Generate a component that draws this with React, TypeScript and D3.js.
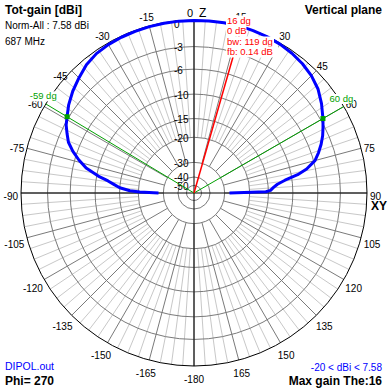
import React from "react";
import * as d3 from "d3";

// elevation cut, normalized gain (dB) vs theta (deg from Z)
const thetaDeg = [
  -90, -89, -88, -86, -84, -82, -80, -77, -74, -71, -68, -65, -62, -59, -55, -50, -45, -40, -35, -30,
  -25, -20, -15, -10, -5, 0, 5, 10, 16, 20, 25, 30, 35, 40, 45, 50, 55, 60, 63, 66,
  69, 72, 75, 78, 80, 82, 84, 86, 88, 89, 90,
];
const gainDb = [
  -27.6, -20.5, -17.6, -15.0, -13.7, -12.3, -10.3, -8.0, -6.6, -5.4, -4.4, -3.8, -3.2, -2.8, -2.2, -1.6, -1.1, -0.6, -0.3, -0.18,
  -0.12, -0.1, -0.08, -0.06, -0.05, -0.05, -0.03, -0.02, 0, -0.02, -0.05, -0.12, -0.25, -0.45, -0.75, -1.2, -1.9, -2.7, -3.2, -3.7,
  -4.3, -5.0, -5.8, -7.3, -8.9, -11.3, -12.9, -13.8, -14.5, -15.6, -27.6,
];
const ringDb = [0, -3, -6, -10, -15, -20, -30, -40, -50];
const beamEdges = [-59, 60];
const maxGainTheta = 16;
const infoLines = ["16 dg", "0 dB", "bw: 119 dg", "fb: 0.14 dB"];

const CX = 194;
const CY = 193;
const R = 173;
const FONT = "Liberation Sans, Arial, sans-serif";

const rad = (a: number) => (a * Math.PI) / 180;
const pt = (a: number, r: number) => [CX + r * Math.sin(rad(a)), CY - r * Math.cos(rad(a))];

function App() {
  // log-like radial scale (ARRL style)
  const lin = d3.scaleLinear().domain([0.0245, 1]).range([0, R]);
  const rScale = (db: number) => lin(Math.pow(10, 0.0235 * db));
  const gainAt = d3.scaleLinear().domain(thetaDeg).range(gainDb);

  const pattern = d3
    .lineRadial<number>()
    .angle((d, i) => rad(thetaDeg[i]))
    .radius((d) => rScale(d))(gainDb);

  const major = d3.range(0, 360, 15);
  const minor = d3.range(0, 360, 3.75).filter((a) => a % 15 !== 0);

  const labelPos = (a: number, txt: string) => {
    const s = Math.sin(rad(a));
    const c = Math.cos(rad(a));
    const [px, py] = pt(a, R);
    const w = txt.replace("-", "").length * 5.56 + (txt.startsWith("-") ? 3.33 : 0);
    let x = px + (w / 2 + 3) * s;
    let y = py - (c > 0 ? 9.5 : 13) * c + 3 * Math.abs(s);
    if (a === 315) {
      x -= 4;
      y += 10;
    }
    return [x, y];
  };

  const r30 = rScale(-30);
  const r20 = rScale(-20);

  return (
    <svg
      width={388}
      height={388}
      style={{ position: "absolute", left: 0, top: 0, background: "#fff" }}
      fontFamily={FONT}
    >
      <rect width={388} height={388} fill="#fff" />
      {/* minor spokes */}
      {minor.map((a) => {
        const [x1, y1] = pt(a, r20);
        const [x2, y2] = pt(a, R);
        return <line key={"n" + a} x1={x1} y1={y1} x2={x2} y2={y2} stroke="#c8c8c8" />;
      })}
      {/* major spokes */}
      {major.map((a) => {
        const [x1, y1] = pt(a, r30);
        const [x2, y2] = pt(a, R);
        return <line key={"m" + a} x1={x1} y1={y1} x2={x2} y2={y2} stroke="#7a7a7a" />;
      })}
      {ringDb.slice(1).map((d) => (
        <circle key={"r" + d} cx={CX} cy={CY} r={rScale(d)} fill="none" stroke="#7a7a7a" />
      ))}
      <circle cx={CX} cy={CY} r={R} fill="none" stroke="#000" />
      <line x1={CX - R} y1={CY} x2={CX + R} y2={CY} stroke="#000" />
      <line x1={CX} y1={CY - R} x2={CX} y2={CY + R} stroke="#000" />

      {/* ring labels */}
      {ringDb.map((d) => (
        <text
          key={"t" + d}
          x={CX - 20}
          y={Math.max(CY - rScale(d) + 1, 24)}
          fontSize={10}
          dominantBaseline="central"
        >
          {d}
        </text>
      ))}

      {/* half power lines */}
      {beamEdges.map((a) => {
        const [x2, y2] = pt(a, R);
        return <line key={"g" + a} x1={CX} y1={CY} x2={x2} y2={y2} stroke="#00a000" />;
      })}

      <path
        d={pattern || ""}
        transform={`translate(${CX},${CY})`}
        fill="none"
        stroke="#0000ff"
        strokeWidth={3}
        strokeLinejoin="round"
      />

      {(() => {
        const [x2, y2] = pt(maxGainTheta, R);
        return <line x1={CX} y1={CY} x2={x2} y2={y2} stroke="#ff0000" strokeWidth={1.5} />;
      })()}

      {beamEdges.map((a) => {
        const [x, y] = pt(a, rScale(gainAt(a)));
        return <rect key={"k" + a} x={x - 2.5} y={y - 2.5} width={5} height={5} fill="#00a000" />;
      })}

      {/* angle labels */}
      {major
        .filter((a) => a !== 0)
        .map((a) => {
          const txt = String(a <= 165 ? a : a - 360);
          const [x, y] = labelPos(a, txt);
          return (
            <text key={"a" + a} x={x} y={y} fontSize={10} textAnchor="middle" dominantBaseline="central">
              {txt}
            </text>
          );
        })}
      <text x={CX - 1} y={17.3} fontSize={11} textAnchor="end">
        0
      </text>
      <text x={CX + 5} y={17.3} fontSize={12}>
        Z
      </text>
      <text x={CX + R + 4} y={210} fontSize={12} fontWeight="bold">
        XY
      </text>

      {/* beamwidth labels */}
      {beamEdges.map((a) => {
        const [px, py] = pt(a, R);
        const txt = `${a} dg`;
        const w = txt.length * 4.6;
        return (
          <g key={"bl" + a}>
            <rect x={px - 2.5 - w / 2 - 1} y={py - 4.5 - 8} width={w + 2} height={10} fill="#fff" />
            <text x={px - 2.5} y={py - 4.5} fontSize={9.5} fill="#00a000" textAnchor="middle">
              {txt}
            </text>
          </g>
        );
      })}

      {/* max gain info */}
      {infoLines.map((t, i) => {
        const base = [24, 34, 45, 55][i];
        const w = t.length * 4.6;
        return (
          <g key={"i" + i}>
            <rect x={226} y={base - 8.5} width={w + 2} height={11} fill="#fff" />
            <text x={227} y={base} fontSize={9.5} fill="#ff0000">
              {t}
            </text>
          </g>
        );
      })}

      <text x={5} y={14} fontSize={12} fontWeight="bold">
        Tot-gain [dBi]
      </text>
      <text x={5} y={29.3} fontSize={10}>
        Norm-All : 7.58 dBi
      </text>
      <text x={5} y={45} fontSize={10}>
        687 MHz
      </text>
      <text x={382} y={14} fontSize={12} fontWeight="bold" textAnchor="end">
        Vertical plane
      </text>
      <text x={5} y={370} fontSize={10.5} fill="#0000ff">
        DIPOL.out
      </text>
      <text x={5} y={385} fontSize={12} fontWeight="bold">
        Phi= 270
      </text>
      <text x={382} y={370.5} fontSize={10} fill="#0000ff" textAnchor="end">
        -20 &lt; dBi &lt; 7.58
      </text>
      <text x={382} y={385} fontSize={12} fontWeight="bold" textAnchor="end">
        Max gain The:16
      </text>
    </svg>
  );
}

export default App;
